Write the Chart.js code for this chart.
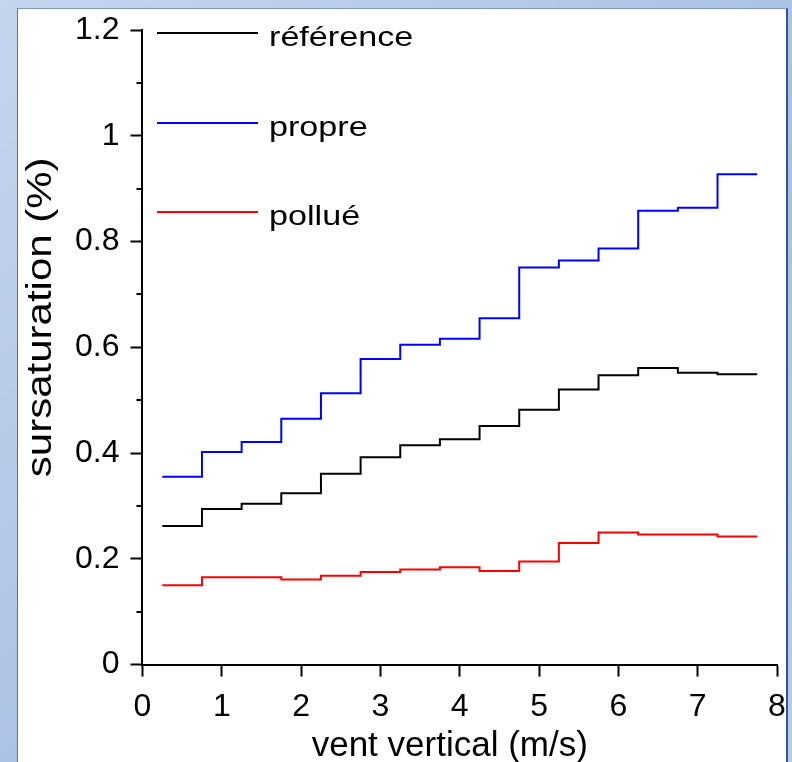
<!DOCTYPE html>
<html>
<head>
<meta charset="utf-8">
<script src="https://cdn.jsdelivr.net/npm/chart.js@4.4.1/dist/chart.umd.min.js"></script>
<style>
    html, body { margin: 0; padding: 0; }
    body {
        width: 792px; height: 762px; overflow: hidden;
        background: linear-gradient(135deg, #c5d5ee 0%, #a8bfe3 60%, #b9cbe9 100%);
        position: relative;
    }
    #frame {
        position: absolute; left: 17px; top: 8px; width: 768px; height: 770px;
        background: #fff;
        border-left: 1px solid #4f72a8;
        border-top: 1px solid #7d98c4;
        border-right: 2px solid #2f5592;
    }
    #wrap { position: absolute; left: 0; top: 0; width: 792px; height: 762px; }
</style>
</head>
<body>
<div id="frame"></div>
<div id="wrap"><canvas id="chart" width="792" height="762"></canvas></div>
<script>
// bin edges of vent vertical (m/s); value i holds from edge i to edge i+1
const edges = [0.25, 0.75, 1.25, 1.75, 2.25, 2.75, 3.25, 3.75, 4.25, 4.75, 5.25, 5.75, 6.25, 6.75, 7.25, 7.75];

const reference = [0.262, 0.294, 0.304, 0.324, 0.361, 0.392, 0.415, 0.426, 0.451, 0.482, 0.520, 0.547, 0.561, 0.552, 0.549, 0.549];
const propre    = [0.355, 0.402, 0.421, 0.465, 0.513, 0.578, 0.605, 0.616, 0.655, 0.751, 0.764, 0.787, 0.858, 0.864, 0.927, 0.927];
const pollue    = [0.150, 0.165, 0.165, 0.161, 0.168, 0.175, 0.180, 0.184, 0.177, 0.195, 0.230, 0.250, 0.246, 0.246, 0.242, 0.242];

const seriesNames = ["référence", "propre", "pollué"];
const seriesColors = ["#000000", "#0000ff", "#ff0000"];
const xTitle = "vent vertical (m/s)";
const yTitle = "sursaturation (%)";

const FONT = "'Liberation Sans', Arial, sans-serif";

function toPoints(vals) {
    return vals.map((v, i) => ({ x: edges[i], y: v }));
}

// minor ticks on y, axis titles and legend
const extras = {
    id: "extras",
    afterDraw(chart) {
        const ctx = chart.ctx;
        const ys = chart.scales.y;
        const area = chart.chartArea;

        // minor y ticks halfway between major ones
        ctx.save();
        ctx.strokeStyle = "#000";
        ctx.lineWidth = 2;
        const t = ys.ticks;
        for (let i = 0; i < t.length - 1; i++) {
            const py = Math.round(ys.getPixelForValue((t[i].value + t[i + 1].value) / 2));
            ctx.beginPath();
            ctx.moveTo(area.left - 6, py);
            ctx.lineTo(area.left, py);
            ctx.stroke();
        }

        // axis titles
        ctx.fillStyle = "#000";
        ctx.font = "35px " + FONT;
        ctx.textAlign = "center";
        ctx.textBaseline = "alphabetic";
        ctx.fillText(xTitle, (area.left + area.right) / 2 - 10, 756);

        // y title is drawn a bit wider along its length, as in the original
        ctx.translate(51, (area.top + area.bottom) / 2 - 30);
        ctx.rotate(-Math.PI / 2);
        ctx.scale(1.2, 1);
        ctx.fillText(yTitle, 0, 0);
        ctx.restore();

        // legend
        const rows = [33, 123, 212];
        chart.data.datasets.forEach((ds, i) => {
            const y = rows[i];
            ctx.save();
            ctx.strokeStyle = ds.borderColor;
            ctx.lineWidth = 2;
            ctx.beginPath();
            ctx.moveTo(157, y);
            ctx.lineTo(258, y);
            ctx.stroke();
            ctx.font = "28px " + FONT;
            ctx.textAlign = "left";
            ctx.textBaseline = "alphabetic";
            ctx.fillStyle = "#000";
            ctx.translate(269, y + 13);
            ctx.scale(1.22, 1);
            ctx.fillText(ds.label, 0, 0);
            ctx.restore();
        });
    }
};

new Chart(document.getElementById("chart"), {
    type: "line",
    data: {
        datasets: [
            { label: seriesNames[0], data: toPoints(reference), borderColor: seriesColors[0] },
            { label: seriesNames[1], data: toPoints(propre), borderColor: seriesColors[1] },
            { label: seriesNames[2], data: toPoints(pollue), borderColor: seriesColors[2] }
        ].map(d => Object.assign(d, {
            stepped: "before",
            borderWidth: 2,
            pointRadius: 0,
            fill: false
        }))
    },
    options: {
        responsive: false,
        animation: false,
        devicePixelRatio: 1,
        layout: { padding: { left: 64, right: 15, top: 30, bottom: 25 } },
        plugins: {
            legend: { display: false },
            tooltip: { enabled: false }
        },
        scales: {
            x: {
                type: "linear",
                min: 0, max: 8,
                afterFit: s => { s.paddingRight = 0; s.paddingLeft = 0; },
                ticks: { stepSize: 1, color: "#000", padding: 11, font: { size: 32, family: FONT } },
                grid: { drawOnChartArea: false, tickLength: 12, tickWidth: 2, tickColor: "#000" },
                border: { color: "#000", width: 2 }
            },
            y: {
                min: 0, max: 1.2,
                afterFit: s => { s.paddingTop = 0; s.paddingBottom = 0; },
                ticks: {
                    stepSize: 0.2, color: "#000", padding: 11,
                    font: { size: 32, family: FONT },
                    callback: v => Number(v.toFixed(1)).toString()
                },
                grid: { drawOnChartArea: false, tickLength: 12, tickWidth: 2, tickColor: "#000" },
                border: { color: "#000", width: 2 }
            }
        }
    },
    plugins: [extras]
});
</script>
</body>
</html>
